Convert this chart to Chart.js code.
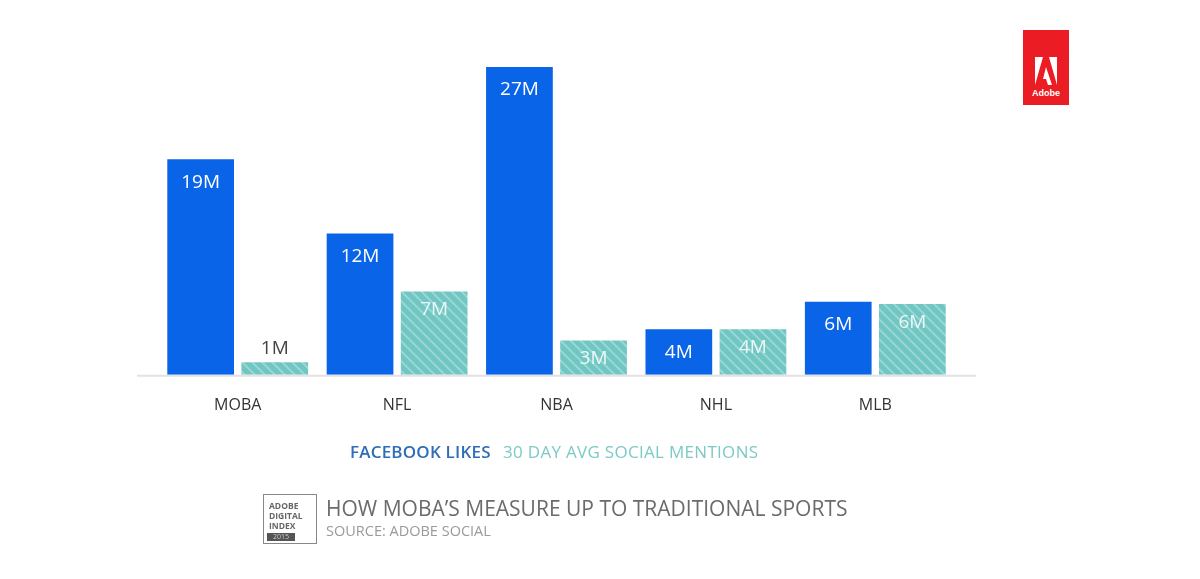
<!DOCTYPE html>
<html lang="en">
<head>
<meta charset="UTF-8">
<title>How MOBA's measure up to traditional sports</title>
<script src="https://cdn.jsdelivr.net/npm/chart.js@4.4.0/dist/chart.umd.min.js"></script>
<style>
  html, body { margin: 0; padding: 0; background: #fff; }
  body { width: 1200px; height: 579px; position: relative; overflow: hidden; font-family: "Open Sans", sans-serif; }
  #chart { position: absolute; left: 0; top: 0; }
  .logo { position: absolute; left: 1023px; top: 30px; width: 46px; height: 75px; background: #ec1c24; }
  .logo svg { position: absolute; left: 12px; top: 27px; }
  .logo span { position: absolute; left: 0; width: 46px; top: 58px; text-align: center; color: #fff; font-size: 9px; font-weight: bold; font-family: "Liberation Sans", sans-serif; }
  .legend { position: absolute; top: 440px; left: 350px; font-size: 17px; white-space: nowrap; }
  .legend .fb { color: #2e6db7; font-weight: 600; letter-spacing: 0.2px; }
  .legend .soc { position: absolute; left: 153px; top: 0; color: #7ccac5; letter-spacing: 0.3px; }
  .badge { position: absolute; left: 263px; top: 494px; width: 54px; height: 50px; border: 1.5px solid #888; box-sizing: border-box; }
  .badge .t { position: absolute; left: 5px; top: 6px; font-size: 8.5px; line-height: 10px; font-weight: bold; color: #666; }
  .badge .y { position: absolute; left: 3px; bottom: 2px; width: 28px; height: 8px; background: #555; color: #ccc; font-size: 7px; line-height: 8px; text-align: center; }
  .title { position: absolute; left: 326px; top: 494px; font-size: 21px; color: #6b6b6b; white-space: nowrap; }
  .source { position: absolute; left: 326px; top: 521px; font-size: 14.5px; color: #9a9a9a; white-space: nowrap; }
</style>
</head>
<body>
<canvas id="chart" width="1200" height="579"></canvas>

<div class="logo">
  <svg width="22" height="28" viewBox="0 0 22 28">
    <polygon points="0,0 8,0 0,28" fill="#fff"/>
    <polygon points="14,0 22,0 22,28" fill="#fff"/>
    <polygon points="11,10 17,28 13,28 11,22 8,22" fill="#fff"/>
  </svg>
  <span>Adobe</span>
</div>

<div class="legend"><span class="fb">FACEBOOK LIKES</span><span class="soc">30 DAY AVG SOCIAL MENTIONS</span></div>

<div class="badge">
  <div class="t">ADOBE<br>DIGITAL<br>INDEX</div>
  <div class="y">2015</div>
</div>
<div class="title">HOW MOBA’S MEASURE UP TO TRADITIONAL SPORTS</div>
<div class="source">SOURCE: ADOBE SOCIAL</div>

<script>
// valeurs (millions)
const categories = ['MOBA', 'NFL', 'NBA', 'NHL', 'MLB'];
const facebookLikes = [18.9, 12.4, 27, 4, 6.4];
const socialMentions = [1.1, 7.3, 3, 4, 6.2];
const seriesNames = ['Facebook likes', '30 day avg social mentions'];

// motif hachuré pour la deuxième série
function hatch() {
    const c = document.createElement('canvas');
    c.width = 10; c.height = 10;
    const g = c.getContext('2d');
    g.fillStyle = '#6fc6c2';
    g.fillRect(0, 0, 10, 10);
    g.strokeStyle = 'rgba(255,255,255,0.3)';
    g.lineWidth = 2;
    g.beginPath();
    g.moveTo(-5, -5); g.lineTo(15, 15);
    g.moveTo(-5, 5); g.lineTo(5, 15);
    g.moveTo(5, -5); g.lineTo(15, 5);
    g.stroke();
    return g.createPattern(c, 'repeat');
}

const baseline = {
    id: 'baseline',
    beforeDatasetsDraw(chart) {
        const { ctx, chartArea } = chart;
        ctx.save();
        ctx.strokeStyle = '#e2e2e2';
        ctx.lineWidth = 2;
        ctx.beginPath();
        ctx.moveTo(chartArea.left - 21, chartArea.bottom + 1);
        ctx.lineTo(chartArea.right + 21, chartArea.bottom + 1);
        ctx.stroke();
        ctx.restore();
    }
};

const valueLabels = {
    id: 'valueLabels',
    afterDatasetsDraw(chart) {
        const ctx = chart.ctx;
        ctx.save();
        ctx.font = '19px "Open Sans", sans-serif';
        ctx.textAlign = 'center';
        ctx.textBaseline = 'middle';
        chart.data.datasets.forEach((ds, i) => {
            chart.getDatasetMeta(i).data.forEach((bar, j) => {
                const txt = Math.round(ds.data[j]) + 'M';
                const h = bar.base - bar.y;
                if (h > 28) {
                    ctx.fillStyle = i === 0 ? '#ffffff' : 'rgba(255,255,255,0.85)';
                    ctx.fillText(txt, bar.x, bar.y + (i === 0 ? 23 : 18));
                } else {
                    ctx.fillStyle = '#444';
                    ctx.fillText(txt, bar.x, bar.y - 14);
                }
            });
        });
        ctx.restore();
    }
};

new Chart(document.getElementById('chart'), {
    type: 'bar',
    data: {
        labels: categories,
        datasets: [
            {
                label: seriesNames[0],
                data: facebookLikes,
                backgroundColor: '#0a64e8',
                categoryPercentage: 0.93,
                barPercentage: 0.9
            },
            {
                label: seriesNames[1],
                data: socialMentions,
                backgroundColor: hatch(),
                categoryPercentage: 0.93,
                barPercentage: 0.9
            }
        ]
    },
    options: {
        responsive: false,
        animation: false,
        devicePixelRatio: 1,
        layout: { padding: { left: 158, right: 245, top: 67, bottom: 143 } },
        plugins: {
            legend: { display: false },
            tooltip: { enabled: false }
        },
        scales: {
            x: {
                grid: { display: false, drawTicks: false },
                border: { display: false },
                ticks: {
                    padding: 21,
                    color: '#333',
                    font: { family: '"Open Sans", sans-serif', size: 16 }
                }
            },
            y: {
                display: false,
                min: 0,
                max: 27
            }
        }
    },
    plugins: [baseline, valueLabels]
});
</script>
</body>
</html>
